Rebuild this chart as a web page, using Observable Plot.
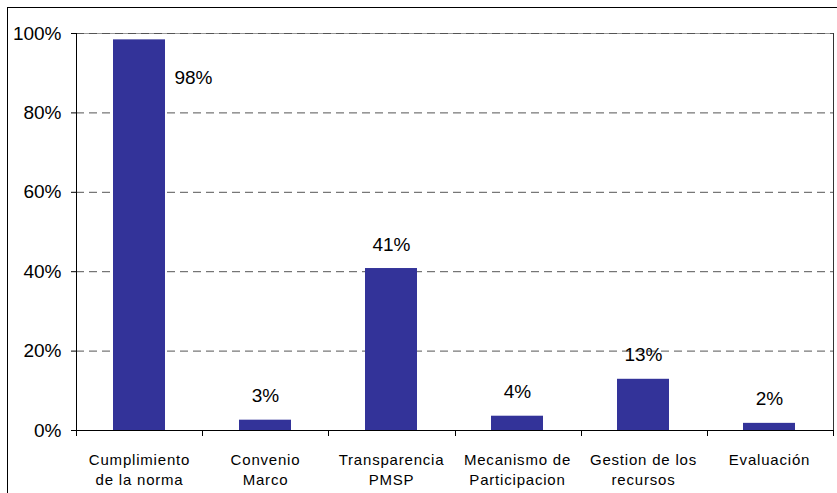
<!DOCTYPE html>
<html><head><meta charset="utf-8">
<script src="https://cdn.jsdelivr.net/npm/d3@7"></script>
<script src="https://cdn.jsdelivr.net/npm/@observablehq/plot@0.6"></script>
<style>
html,body{margin:0;padding:0;background:#fff;overflow:hidden;}
#chart{position:absolute;left:0;top:0;}
#frame{position:absolute;left:7px;top:7px;width:900px;height:600px;border:1px solid #000;box-sizing:border-box;pointer-events:none;}
g[aria-label="x-axis tick label"] text{letter-spacing:0.8px;}
</style></head><body>
<div id="chart"></div><div id="frame"></div>
<script>
const categories = ["Cumplimiento de la norma","Convenio Marco","Transparencia PMSP","Mecanismo de Participacion","Gestion de los recursos","Evaluación"];
const tickLabels = ["Cumplimiento\nde la norma","Convenio\nMarco","Transparencia\nPMSP","Mecanismo de\nParticipacion","Gestion de los\nrecursos","Evaluación"];
const values = [98.4, 2.6, 40.8, 3.6, 12.9, 1.8];
const yTicks = [0, 20, 40, 60, 80, 100];
const gridTicks = [20, 40, 60, 80];

const data = categories.map((c, i) => ({category: c, value: values[i], label: Math.round(values[i]) + "%"}));

function frameLines(index, scales, vals, dims) {
  const {width, height, marginLeft, marginRight, marginTop, marginBottom} = dims;
  const n = categories.length;
  const step = (width - marginLeft - marginRight) / n;
  const y0 = scales.y(0), yTop = scales.y(100);
  const g = d3.create("svg:g").attr("stroke", "#000").attr("shape-rendering", "crispEdges");
  // left axis line
  g.append("line").attr("x1", marginLeft + 0.5).attr("x2", marginLeft + 0.5).attr("y1", yTop).attr("y2", y0);
  // right edge
  g.append("line").attr("x1", width - marginRight + 0.5).attr("x2", width - marginRight + 0.5).attr("y1", yTop).attr("y2", y0).attr("stroke", "#333");
  // category boundary ticks
  for (let i = 0; i <= n; i++) {
    const x = Math.round(marginLeft + i * step) + 0.5;
    g.append("line").attr("x1", x).attr("x2", x).attr("y1", y0).attr("y2", y0 + 6);
  }
  return g.node();
}

const chart = Plot.plot({
  width: 837,
  height: 493,
  marginLeft: 76,
  marginRight: 4,
  marginTop: 33,
  marginBottom: 63,
  style: {fontFamily: "'Liberation Sans', Arial, sans-serif", fontSize: "19px", color: "#000", background: "transparent"},
  x: {domain: categories, paddingInner: 0.587, paddingOuter: 0.2935, align: 0.5, label: null},
  y: {domain: [0, 100], label: null},
  marks: [
    Plot.ruleY(gridTicks, {stroke: "#555", strokeDasharray: "8,5", strokeWidth: 1}),
    Plot.ruleY([100], {stroke: "#999"}),
    Plot.ruleY([100], {stroke: "#555", strokeDasharray: "8,5"}),
    Plot.barY(data, {x: "category", y: "value", fill: "#333399"}),
    Plot.ruleY([0], {stroke: "#000"}),
    frameLines,
    Plot.axisY({ticks: yTicks, tickFormat: d => d + "%", tickSize: 5, tickPadding: 10, fontSize: 19, stroke: "#000", fill: "#000", label: null}),
    Plot.axisX({tickFormat: d => tickLabels[categories.indexOf(d)], tickSize: 0, tickPadding: 21, fontSize: 15, lineHeight: 1.3, fill: "#000", label: null}),
    Plot.text(data.filter(d => d.value <= 90), {x: "category", y: "value", text: "label", dy: -24, fontSize: 19, fill: "#000"}),
    Plot.text(data.filter(d => d.value > 90), {x: "category", y: "value", text: "label", dx: 54, dy: 38, fontSize: 19, fill: "#000"})
  ]
});
document.getElementById("chart").appendChild(chart);
</script>
</body></html>
